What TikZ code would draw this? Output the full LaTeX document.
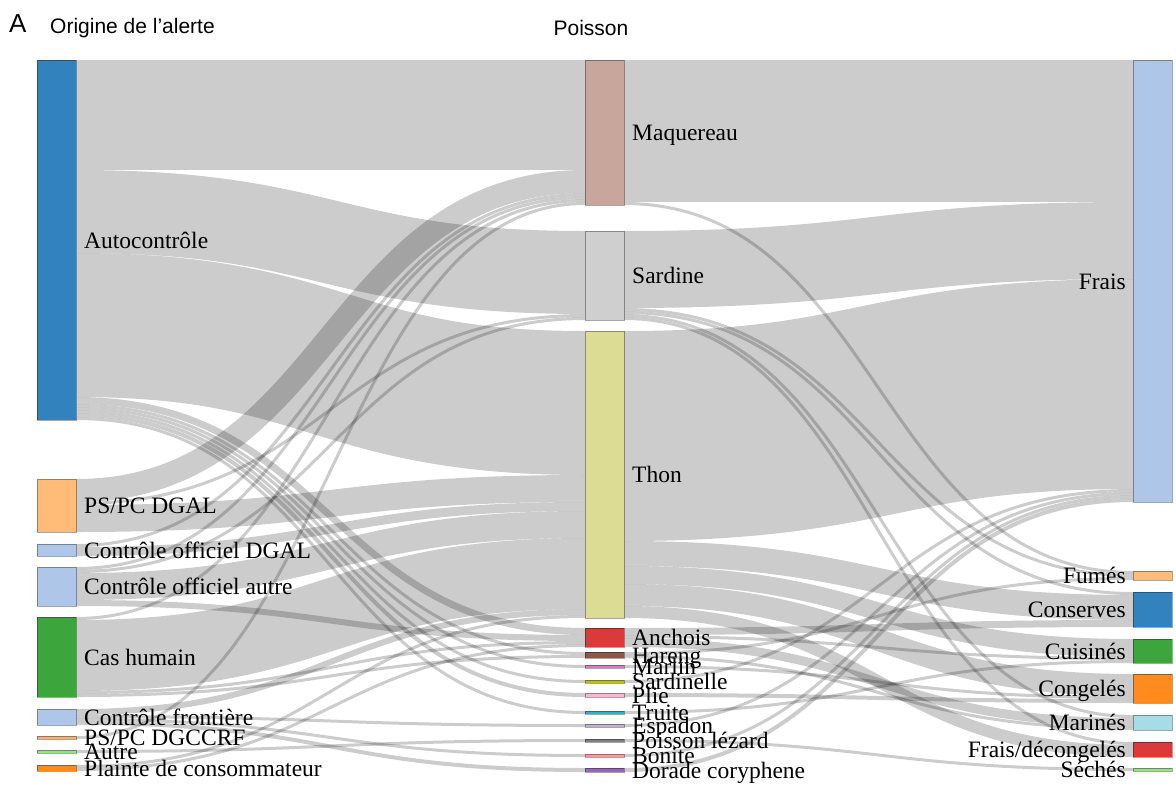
\documentclass[tikz,border=0pt]{standalone}
\usepackage{fontspec}
\setmainfont{Liberation Serif}
\newfontfamily\headfont{Liberation Sans}
\usetikzlibrary{calc,positioning,backgrounds}

\definecolor{cAuto}{HTML}{3182BD}
\definecolor{cPeach}{HTML}{FFBB78}
\definecolor{cLblue}{HTML}{AEC7E8}
\definecolor{cGreen}{HTML}{3CA63C}
\definecolor{cTan}{HTML}{F0B27A}
\definecolor{cLgreen}{HTML}{98DF8A}
\definecolor{cOrange}{HTML}{FF8A1E}
\definecolor{cMaq}{HTML}{C9A69C}
\definecolor{cGrey}{HTML}{CFCFCF}
\definecolor{cThon}{HTML}{DCDC94}
\definecolor{cRed}{HTML}{DA3A3A}
\definecolor{cBrown}{HTML}{8C564B}
\definecolor{cPink}{HTML}{E377C2}
\definecolor{cOlive}{HTML}{BCBD22}
\definecolor{cLpink}{HTML}{F7B6D2}
\definecolor{cCyan}{HTML}{17BECF}
\definecolor{cLav}{HTML}{C5B0D5}
\definecolor{cDgrey}{HTML}{7F7F7F}
\definecolor{cSalmon}{HTML}{FF9896}
\definecolor{cPurple}{HTML}{9467BD}
\definecolor{cLcyan}{HTML}{A6DCE6}

% source node, offset, target node, offset, width (all in px)
\newcommand{\sflow}[5]{%
  \draw[link, line width=#5pt] ($(#1.north east)+(0,#2+#5/2)$)
    .. controls +(254.5,0) and +(-254.5,0) .. ($(#3.north west)+(0,#4+#5/2)$);}

\begin{document}
\begin{tikzpicture}[x=1pt, y=-1pt,
 bar/.style={rectangle, draw=black, draw opacity=0.35, line width=1pt, minimum width=39pt, inner sep=0pt, outer sep=0pt, anchor=north west},
 lab/.style={font=\fontsize{23.5}{25}\selectfont, inner sep=0pt, text height=16pt, text depth=0pt},
 link/.style={draw=black, draw opacity=0.2},
 head/.style={font=\headfont\fontsize{21}{23}\selectfont, inner sep=0pt},
]
\useasboundingbox (0,0) rectangle (1176,785);

\node[head, anchor=base west, font=\headfont\fontsize{26}{28}\selectfont] (hdA) at (9,32) {A};
\node[head, anchor=base west] (hdOrig) at (50,33) {Origine de l’alerte};
\node[head, anchor=base] (hdPois) at (591,35) {Poisson};

\node[bar, fill=cAuto, minimum height=360pt] (auto) at (37,60) {};
\node[bar, fill=cPeach, minimum height=53pt] (psdgal) at (37,479) {};
\node[bar, fill=cLblue, minimum height=12pt] (codgal) at (37,544) {};
\node[bar, fill=cLblue, minimum height=39pt] (coautre) at (37,567) {};
\node[bar, fill=cGreen, minimum height=80pt] (cas) at (37,617) {};
\node[bar, fill=cLblue, minimum height=16pt] (front) at (37,709) {};
\node[bar, fill=cTan, minimum height=3pt] (dgccrf) at (37,736) {};
\node[bar, fill=cLgreen, minimum height=3pt] (autre) at (37,750) {};
\node[bar, fill=cOrange, minimum height=6pt] (plainte) at (37,765) {};

\node[bar, fill=cMaq, minimum height=145pt] (maq) at (585,60) {};
\node[bar, fill=cGrey, minimum height=89pt] (sard) at (585,231) {};
\node[bar, fill=cThon, minimum height=287pt] (thon) at (585,331) {};
\node[bar, fill=cRed, minimum height=19pt] (anch) at (585,628) {};
\node[bar, fill=cBrown, minimum height=6pt] (har) at (585,652) {};
\node[bar, fill=cPink, minimum height=3pt] (marl) at (585,665) {};
\node[bar, fill=cOlive, minimum height=3pt] (sdl) at (585,680) {};
\node[bar, fill=cLpink, minimum height=4pt] (plie) at (585,693) {};
\node[bar, fill=cCyan, minimum height=3pt] (truite) at (585,711) {};
\node[bar, fill=cLav, minimum height=3pt] (esp) at (585,724) {};
\node[bar, fill=cDgrey, minimum height=3pt] (lez) at (585,739) {};
\node[bar, fill=cSalmon, minimum height=3pt] (bon) at (585,754) {};
\node[bar, fill=cPurple, minimum height=4pt] (dor) at (585,768) {};

\node[bar, fill=cLblue, minimum height=442pt] (frais) at (1133,60) {};
\node[bar, fill=cPeach, minimum height=9pt] (fumes) at (1133,571) {};
\node[bar, fill=cAuto, minimum height=35pt] (cons) at (1133,592) {};
\node[bar, fill=cGreen, minimum height=24pt] (cuis) at (1133,639) {};
\node[bar, fill=cOrange, minimum height=29pt] (cong) at (1133,674) {};
\node[bar, fill=cLcyan, minimum height=15pt] (mar) at (1133,715) {};
\node[bar, fill=cRed, minimum height=15pt] (fdec) at (1133,742) {};
\node[bar, fill=cLgreen, minimum height=3pt] (sech) at (1133,768) {};

\node[lab, right=8pt of auto] (autoL) {Autocontrôle};
\node[lab, right=8pt of psdgal] (psdgalL) {PS/PC DGAL};
\node[lab, right=8pt of codgal] (codgalL) {Contrôle officiel DGAL};
\node[lab, right=8pt of coautre] (coautreL) {Contrôle officiel autre};
\node[lab, right=8pt of cas] (casL) {Cas humain};
\node[lab, right=8pt of front] (frontL) {Contrôle frontière};
\node[lab, right=8pt of dgccrf] (dgccrfL) {PS/PC DGCCRF};
\node[lab, right=8pt of autre] (autreL) {Autre};
\node[lab, right=8pt of plainte] (plainteL) {Plainte de consommateur};

\node[lab, right=8pt of maq] (maqL) {Maquereau};
\node[lab, right=8pt of sard] (sardL) {Sardine};
\node[lab, right=8pt of thon] (thonL) {Thon};
\node[lab, right=8pt of anch] (anchL) {Anchois};
\node[lab, right=8pt of har] (harL) {Hareng};
\node[lab, right=8pt of marl] (marlL) {Marlin};
\node[lab, right=8pt of sdl] (sdlL) {Sardinelle};
\node[lab, right=8pt of plie] (plieL) {Plie};
\node[lab, right=8pt of truite] (truiteL) {Truite};
\node[lab, right=8pt of esp] (espL) {Espadon};
\node[lab, right=8pt of lez] (lezL) {Poisson lézard};
\node[lab, right=8pt of bon] (bonL) {Bonite};
\node[lab, right=8pt of dor] (dorL) {Dorade coryphene};

\node[lab, left=7pt of frais] (fraisL) {Frais};
\node[lab, left=7pt of fumes] (fumesL) {Fumés};
\node[lab, left=7pt of cons] (consL) {Conserves};
\node[lab, left=7pt of cuis] (cuisL) {Cuisinés};
\node[lab, left=7pt of cong] (congL) {Congelés};
\node[lab, left=7pt of mar] (marL) {Marinés};
\node[lab, left=7pt of fdec] (fdecL) {Frais/décongelés};
\node[lab, left=7pt of sech] (sechL) {Séchés};

\begin{pgfonlayer}{background}
\sflow{auto}{0}{maq}{0}{110}
\sflow{auto}{110}{sard}{0}{83}
\sflow{auto}{193}{thon}{0}{144}
\sflow{auto}{337}{anch}{0}{7}
\sflow{auto}{344}{har}{0}{3}
\sflow{auto}{347}{marl}{0}{3}
\sflow{auto}{350}{sdl}{0}{3}
\sflow{auto}{353}{plie}{0}{4}
\sflow{auto}{357}{truite}{0}{3}
\sflow{psdgal}{0}{maq}{110}{23}
\sflow{psdgal}{23}{sard}{83}{3}
\sflow{psdgal}{26}{thon}{144}{27}
\sflow{codgal}{0}{maq}{133}{3}
\sflow{codgal}{3}{thon}{171}{9}
\sflow{coautre}{0}{maq}{136}{3}
\sflow{coautre}{3}{sard}{86}{3}
\sflow{coautre}{6}{thon}{180}{27}
\sflow{coautre}{33}{anch}{7}{6}
\sflow{cas}{0}{maq}{139}{3}
\sflow{cas}{3}{thon}{207}{71}
\sflow{cas}{74}{anch}{13}{3}
\sflow{cas}{77}{har}{3}{3}
\sflow{front}{0}{thon}{278}{6}
\sflow{front}{6}{esp}{0}{3}
\sflow{front}{9}{bon}{0}{3}
\sflow{front}{12}{dor}{0}{4}
\sflow{dgccrf}{0}{maq}{142}{3}
\sflow{autre}{0}{lez}{0}{3}
\sflow{plainte}{0}{thon}{284}{3}
\sflow{plainte}{3}{anch}{16}{3}

\sflow{maq}{0}{frais}{0}{142}
\sflow{maq}{142}{fumes}{0}{3}
\sflow{sard}{0}{frais}{142}{77}
\sflow{sard}{77}{fumes}{3}{3}
\sflow{sard}{80}{cons}{0}{3}
\sflow{sard}{83}{mar}{0}{3}
\sflow{sard}{86}{fdec}{0}{3}
\sflow{thon}{0}{frais}{219}{210}
\sflow{thon}{210}{cons}{3}{25}
\sflow{thon}{235}{cuis}{0}{18}
\sflow{thon}{253}{cong}{0}{22}
\sflow{thon}{275}{fdec}{3}{12}
\sflow{anch}{0}{cons}{28}{7}
\sflow{anch}{7}{cuis}{18}{3}
\sflow{anch}{10}{mar}{3}{9}
\sflow{har}{0}{fumes}{6}{3}
\sflow{har}{3}{mar}{12}{3}
\sflow{marl}{0}{cong}{22}{3}
\sflow{sdl}{0}{frais}{429}{3}
\sflow{plie}{0}{cong}{25}{4}
\sflow{truite}{0}{cuis}{21}{3}
\sflow{esp}{0}{frais}{432}{3}
\sflow{lez}{0}{sech}{0}{3}
\sflow{bon}{0}{frais}{435}{3}
\sflow{dor}{0}{frais}{438}{4}
\end{pgfonlayer}
\end{tikzpicture}
\end{document}
